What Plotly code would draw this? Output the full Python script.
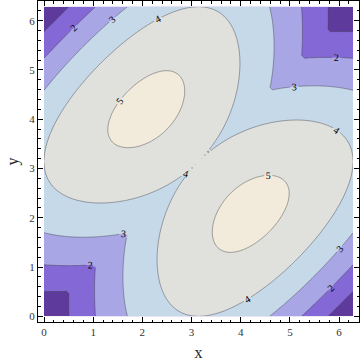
import numpy as np
import plotly.graph_objects as go

# Grid of angles (x and y share the same grid, 0 .. 2π)
n_pts = 97
angle = np.linspace(0, 2 * np.pi, n_pts)

# Chord lengths 2|sin(t/2)| on the angle grid (triangle side lengths)
chord = [0.0, 0.0654, 0.1308, 0.1960, 0.2611, 0.3258, 0.3902, 0.4542,
         0.5176, 0.5806, 0.6429, 0.7045, 0.7654, 0.8254, 0.8846, 0.9428,
         1.0, 1.0561, 1.1111, 1.1650, 1.2175, 1.2688, 1.3187, 1.3672,
         1.4142, 1.4597, 1.5037, 1.5460, 1.5867, 1.6257, 1.6629, 1.6984,
         1.7321, 1.7639, 1.7937, 1.8217, 1.8478, 1.8718, 1.8939, 1.9139,
         1.9319, 1.9478, 1.9616, 1.9733, 1.9829, 1.9904, 1.9957, 1.9989,
         2.0,
         1.9989, 1.9957, 1.9904, 1.9829, 1.9733, 1.9616, 1.9478, 1.9319,
         1.9139, 1.8939, 1.8718, 1.8478, 1.8217, 1.7937, 1.7639, 1.7321,
         1.6984, 1.6629, 1.6257, 1.5867, 1.5460, 1.5037, 1.4597, 1.4142,
         1.3672, 1.3187, 1.2688, 1.2175, 1.1650, 1.1111, 1.0561, 1.0,
         0.9428, 0.8846, 0.8254, 0.7654, 0.7045, 0.6429, 0.5806, 0.5176,
         0.4542, 0.3902, 0.3258, 0.2611, 0.1960, 0.1308, 0.0654, 0.0]

levels = [1, 2, 3, 4, 5]
band_colors = ["#5D3A9B", "#8468D5", "#A9A6E6", "#C6D9E8", "#E0E1DD", "#F2EBDB"]
tick_vals = [0, 1, 2, 3, 4, 5, 6]

# perimeter table built from the chord list
z = [[chord[i] + chord[j] + chord[abs(i - j)] for i in range(n_pts)] for j in range(n_pts)]

cs = [[k / (len(band_colors) - 1), c] for k, c in enumerate(band_colors)]

fig = go.Figure(go.Contour(
    x=angle, y=angle, z=z,
    autocontour=False,
    contours=dict(start=levels[0] - 0.0005, end=levels[-1], size=1, coloring="fill",
                  showlabels=True, labelformat=".0f",
                  labelfont=dict(family="Liberation Serif", size=10, color="black")),
    colorscale=cs,
    showscale=False,
    line=dict(color="rgba(60,60,70,0.55)", width=0.8, smoothing=0.6),
    hoverinfo="skip",
))

axis_common = dict(
    showline=True, linecolor="black", linewidth=1, mirror="ticks",
    ticks="inside", ticklen=5, tickcolor="black", tickwidth=1,
    tickvals=tick_vals,
    minor=dict(dtick=0.2, tick0=0, ticks="inside", ticklen=2.5, tickcolor="black"),
    showgrid=False, zeroline=False,
    tickfont=dict(family="Liberation Serif", size=11, color="#333333"),
)

fig.update_layout(
    width=360, height=362,
    margin=dict(l=38, r=1, t=1, b=40),
    paper_bgcolor="white", plot_bgcolor="white",
    xaxis=dict(range=[-0.122, 6.405],
               title=dict(text="x", font=dict(family="Liberation Serif", size=16, color="#222"), standoff=9),
               **axis_common),
    yaxis=dict(range=[-0.116, 6.40],
               title=dict(text="y", font=dict(family="Liberation Serif", size=16, color="#222"), standoff=6),
               **axis_common),
)

fig.write_html("out.html")
